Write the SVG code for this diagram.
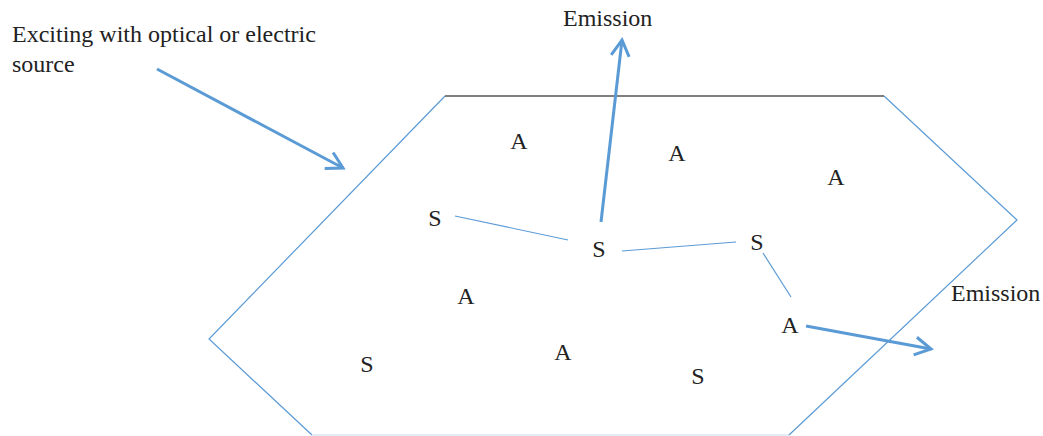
<svg xmlns="http://www.w3.org/2000/svg" width="1043" height="436" viewBox="0 0 1043 436">
<style>
.t{font-family:"Liberation Serif","Times New Roman",serif;font-size:24px;fill:#222}
.c{font-family:"Liberation Serif","Times New Roman",serif;font-size:24px;fill:#222;text-anchor:middle}
.edge{stroke:#5B9BD5;stroke-width:1.2;fill:none}
.arr{stroke:#5B9BD5;stroke-width:3;fill:none;marker-end:url(#ah)}
</style>
<defs>
<marker id="ah" markerUnits="userSpaceOnUse" markerWidth="30" markerHeight="30" refX="0" refY="0" viewBox="-20 -15 30 30" orient="auto">
<path d="M-16,-9 L0,0 L-16,9" fill="none" stroke="#5B9BD5" stroke-width="3"/>
</marker>
</defs>
<g id="hexagon">
<polyline points="445,96 209,339 312,435" class="edge"/>
<polyline points="884,96 1017,220 789,435" class="edge"/>
<line x1="312" y1="435" x2="789" y2="435" stroke="#C9DCF0" stroke-width="1.2"/>
<line x1="445" y1="96" x2="884" y2="96" stroke="#555" stroke-width="1.5"/>
</g>
<g id="labels">
<text class="t" x="12" y="42">Exciting with optical or electric</text>
<text class="t" x="12" y="72">source</text>
<text class="t" x="563" y="26">Emission</text>
<text class="t" x="951" y="301">Emission</text>
</g>
<g id="nodes">
<g id="A1"><text class="c" x="519" y="149">A</text></g>
<g id="A2"><text class="c" x="677" y="161">A</text></g>
<g id="A3"><text class="c" x="836" y="185">A</text></g>
<g id="A4"><text class="c" x="466" y="304">A</text></g>
<g id="A5"><text class="c" x="563" y="360">A</text></g>
<g id="A6"><text class="c" x="790" y="333">A</text></g>
<g id="S1"><text class="c" x="435" y="226">S</text></g>
<g id="S2"><text class="c" x="599" y="257">S</text></g>
<g id="S3"><text class="c" x="757" y="250">S</text></g>
<g id="S4"><text class="c" x="367" y="372">S</text></g>
<g id="S5"><text class="c" x="698" y="384">S</text></g>
</g>
<g id="connectors">
<line class="edge" x1="455" y1="216" x2="568" y2="240"/>
<line class="edge" x1="622" y1="251" x2="736" y2="242"/>
<line class="edge" x1="763" y1="253" x2="791" y2="297"/>
<line class="arr" x1="157" y1="69" x2="343" y2="168"/>
<line class="arr" x1="601" y1="222" x2="622" y2="40"/>
<line class="arr" x1="806" y1="326" x2="931" y2="349"/>
</g>
</svg>
